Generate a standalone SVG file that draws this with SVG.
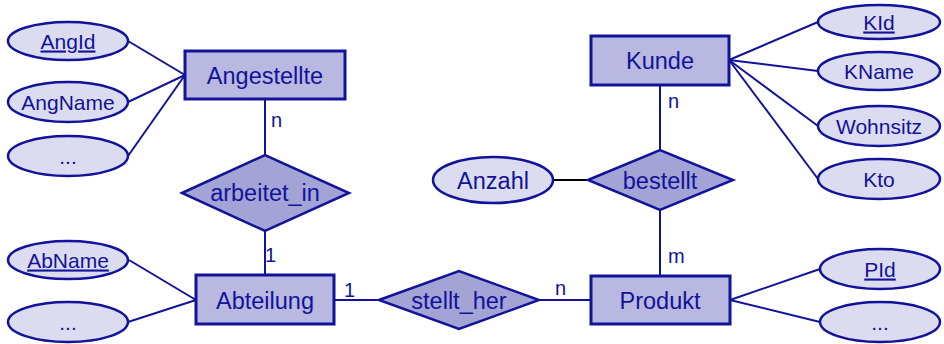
<svg xmlns="http://www.w3.org/2000/svg" width="944" height="344" viewBox="0 0 944 344">
<style>
.ent{fill:#b8b8e0;stroke:#12129a;stroke-width:3}
.rel{fill:#a3a3d6;stroke:#12129a;stroke-width:2.5}
.att{fill:#dcdcf0;stroke:#12129a;stroke-width:2.5}
.ln{stroke:#12129a;stroke-width:2;fill:none}
text{font-family:"Liberation Sans",Arial,sans-serif;fill:#12129a;text-anchor:middle}
.t1{font-size:23.5px}
.t2{font-size:21px}
.t3{font-size:20px;text-anchor:start}
.u{text-decoration:underline}
</style>
<rect width="944" height="344" fill="#ffffff"/>
<g id="connectors">
<line class="ln" x1="128" y1="41" x2="185" y2="75"/>
<line class="ln" x1="128" y1="102" x2="185" y2="75"/>
<line class="ln" x1="128" y1="156" x2="185" y2="75"/>
<line class="ln" x1="265" y1="99" x2="265" y2="155"/>
<line class="ln" x1="265" y1="231" x2="265" y2="275"/>
<line class="ln" x1="129" y1="260" x2="196" y2="300"/>
<line class="ln" x1="128" y1="322" x2="196" y2="300"/>
<line class="ln" x1="334" y1="300" x2="379" y2="300"/>
<line class="ln" x1="539" y1="300" x2="591" y2="300"/>
<line class="ln" x1="660" y1="210" x2="660" y2="276"/>
<line class="ln" x1="660" y1="85" x2="660" y2="150"/>
<line x1="553" y1="180" x2="588" y2="180" stroke="#000000" stroke-width="2"/>
<line class="ln" x1="729" y1="60" x2="818" y2="22"/>
<line class="ln" x1="729" y1="60" x2="818" y2="71"/>
<line class="ln" x1="729" y1="60" x2="818" y2="126"/>
<line class="ln" x1="729" y1="60" x2="818" y2="179"/>
<line class="ln" x1="730" y1="300" x2="820" y2="269"/>
<line class="ln" x1="730" y1="300" x2="820" y2="322"/>
<text class="t3" x="271" y="127">n</text>
<text class="t3" x="265" y="262">1</text>
<text class="t3" x="344" y="297">1</text>
<text class="t3" x="555" y="295">n</text>
<text class="t3" x="668" y="263">m</text>
<text class="t3" x="668" y="108">n</text>
</g>
<g id="Angestellte"><rect class="ent" x="185" y="51" width="160" height="48"/><text class="t1" x="265" y="84">Angestellte</text></g>
<g id="AngId"><ellipse class="att" cx="68" cy="41" rx="60" ry="19"/><text class="t2 u" x="68" y="48.5">AngId</text></g>
<g id="AngName"><ellipse class="att" cx="68" cy="102" rx="60" ry="20"/><text class="t2" x="68" y="109.5">AngName</text></g>
<g id="AngMore"><ellipse class="att" cx="68" cy="156" rx="60" ry="20"/><text class="t2" x="68" y="163.5">...</text></g>
<g id="arbeitet_in"><polygon class="rel" points="182,193 265,155 349,193 265,231"/><text class="t1" x="265" y="201">arbeitet_in</text></g>
<g id="Abteilung"><rect class="ent" x="196" y="275" width="138" height="49"/><text class="t1" x="265" y="308.5">Abteilung</text></g>
<g id="AbName"><ellipse class="att" cx="68" cy="260" rx="60" ry="19"/><text class="t2 u" x="68" y="267.5">AbName</text></g>
<g id="AbMore"><ellipse class="att" cx="68" cy="322" rx="60" ry="20"/><text class="t2" x="68" y="329.5">...</text></g>
<g id="stellt_her"><polygon class="rel" points="379,300 459,271 539,300 459,329"/><text class="t1" x="459" y="308.5">stellt_her</text></g>
<g id="Produkt"><rect class="ent" x="591" y="276" width="139" height="48"/><text class="t1" x="660" y="308.5">Produkt</text></g>
<g id="PId"><ellipse class="att" cx="880" cy="269" rx="60" ry="20"/><text class="t2 u" x="880" y="276.5">PId</text></g>
<g id="PMore"><ellipse class="att" cx="880" cy="322" rx="60" ry="20"/><text class="t2" x="880" y="329.5">...</text></g>
<g id="bestellt"><polygon class="rel" points="588,180 660,150 733,180 660,210"/><text class="t1" x="660" y="188.5">bestellt</text></g>
<g id="Anzahl"><ellipse class="att" cx="493" cy="180" rx="60" ry="23"/><text class="t1" x="493" y="188.5">Anzahl</text></g>
<g id="Kunde"><rect class="ent" x="591" y="36" width="138" height="49"/><text class="t1" x="660" y="69">Kunde</text></g>
<g id="KId"><ellipse class="att" cx="879" cy="22" rx="61" ry="17"/><text class="t2 u" x="879" y="29.5">KId</text></g>
<g id="KName"><ellipse class="att" cx="879" cy="71" rx="61" ry="19"/><text class="t2" x="879" y="78.5">KName</text></g>
<g id="Wohnsitz"><ellipse class="att" cx="879" cy="126" rx="61" ry="20"/><text class="t2" x="879" y="133.5">Wohnsitz</text></g>
<g id="Kto"><ellipse class="att" cx="879" cy="179" rx="61" ry="20"/><text class="t2" x="879" y="186.5">Kto</text></g>
</svg>
